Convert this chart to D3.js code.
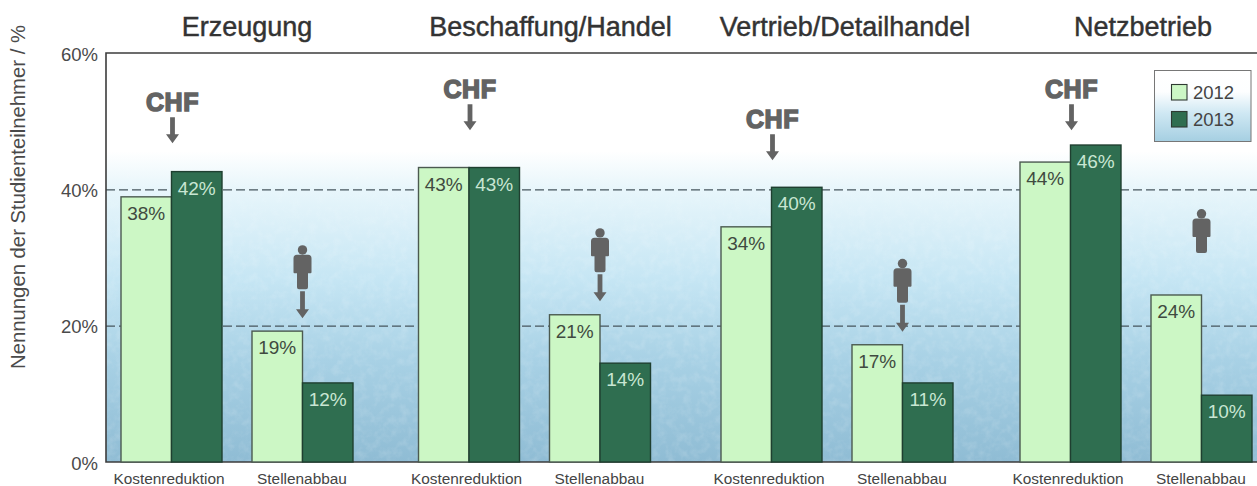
<!DOCTYPE html>
<html>
<head>
<meta charset="utf-8">
<script src="https://cdn.jsdelivr.net/npm/d3@7"></script>
<style>
  html, body { margin: 0; padding: 0; background: #fff; overflow: hidden; }
  text { font-family: "Liberation Sans", Arial, sans-serif; }
</style>
</head>
<body>
<div id="chart"></div>
<script>
const groups = ["Erzeugung", "Beschaffung/Handel", "Vertrieb/Detailhandel", "Netzbetrieb"];
const categories = ["Kostenreduktion", "Stellenabbau"];
const years = ["2012", "2013"];
const yTicks = [0, 20, 40, 60];

// bar heights as drawn, one row per group: [Kosten, Stellen]
const values2012 = [[38.9, 19.2], [43.2, 21.6], [34.5, 17.2], [44.0, 24.5]];
const values2013 = [[42.6, 11.6], [43.2, 14.5], [40.3, 11.6], [46.5, 9.8]];
// printed labels, they do not always match the bar height
const labels2012 = [[38, 19], [43, 21], [34, 17], [44, 24]];
const labels2013 = [[42, 12], [43, 14], [40, 11], [46, 10]];

// height on the value axis where the icons start
const chfLevels = [54.1, 56, 51.6, 56];
const personLevels = [31.8, 34.3, 29.8, 37.1];
const personHasArrow = [true, true, true, false];

const width = 1257;
const height = 486;
const plot = { left: 106, right: 1257, top: 53, bottom: 462 };
const iconColor = "#636363";

const svg = d3.select("#chart").append("svg")
  .attr("width", width)
  .attr("height", height)
  .style("display", "block");

const y = d3.scaleLinear().domain([0, 60]).range([plot.bottom, plot.top]);

// group and category offsets measured off the page
const groupX = d3.scaleOrdinal().domain(groups).range([121, 418.5, 721, 1020]);
const catX = d3.scaleBand().domain(categories).range([0, 262]);
const yearX = d3.scaleBand().domain(years).range([0, 101]);

const titleX = d3.scaleOrdinal().domain(groups).range([247, 550.5, 845, 1143]);

// background gradient
const defs = svg.append("defs");
const grad = defs.append("linearGradient")
  .attr("id", "bg")
  .attr("x1", 0).attr("x2", 0).attr("y1", 0).attr("y2", 1);
[[0, "#ffffff"], [0.24, "#ffffff"], [0.33, "#e8f6fb"], [0.55, "#c6e6f4"], [0.75, "#a8d1e5"], [1, "#8fbcd4"]]
  .forEach(s => grad.append("stop").attr("offset", s[0]).attr("stop-color", s[1]));

const legendGrad = defs.append("linearGradient")
  .attr("id", "legendBg")
  .attr("x1", 0).attr("x2", 0).attr("y1", 0).attr("y2", 1);
[[0, "#ffffff"], [0.3, "#fdfeff"], [0.6, "#cfe8f3"], [1, "#a5cfe2"]]
  .forEach(s => legendGrad.append("stop").attr("offset", s[0]).attr("stop-color", s[1]));

// print mottling on the blue part
const fadeGrad = defs.append("linearGradient")
  .attr("id", "fade")
  .attr("x1", 0).attr("x2", 0).attr("y1", 0).attr("y2", 1);
[[0, "#fff", 0], [0.27, "#fff", 0], [0.45, "#fff", 1], [1, "#fff", 1]]
  .forEach(s => fadeGrad.append("stop").attr("offset", s[0]).attr("stop-color", s[1]).attr("stop-opacity", s[2]));

const mottle = defs.append("filter")
  .attr("id", "mottle")
  .attr("x", 0).attr("y", 0).attr("width", 1).attr("height", 1);
mottle.append("feTurbulence")
  .attr("type", "fractalNoise")
  .attr("baseFrequency", 0.12)
  .attr("numOctaves", 3)
  .attr("seed", 4)
  .attr("result", "noise");
mottle.append("feColorMatrix")
  .attr("in", "noise")
  .attr("type", "matrix")
  .attr("values", "0 0 0 0 1  0 0 0 0 1  0 0 0 0 1  2.4 0 0 0 -1")
  .attr("result", "white");
mottle.append("feComposite")
  .attr("in", "white")
  .attr("in2", "SourceGraphic")
  .attr("operator", "in");

// plot area
svg.append("rect")
  .attr("x", plot.left)
  .attr("y", plot.top)
  .attr("width", plot.right - plot.left)
  .attr("height", plot.bottom - plot.top)
  .attr("fill", "url(#bg)");

svg.append("rect")
  .attr("x", plot.left)
  .attr("y", plot.top)
  .attr("width", plot.right - plot.left)
  .attr("height", plot.bottom - plot.top)
  .attr("fill", "url(#fade)")
  .attr("filter", "url(#mottle)")
  .attr("opacity", 0.13);

// Dashed lines at 20 and 40
svg.append("g").selectAll("line")
  .data([20, 40])
  .join("line")
  .attr("x1", plot.left)
  .attr("x2", plot.right)
  .attr("y1", d => y(d) + 0.5)
  .attr("y2", d => y(d) + 0.5)
  .attr("stroke", "#47565e")
  .attr("stroke-width", 1.2)
  .attr("stroke-dasharray", "9,4");

// Frame
svg.append("path")
  .attr("d", `M${plot.right},${plot.top}H${plot.left}V${plot.bottom}H${plot.right}`)
  .attr("fill", "none")
  .attr("stroke", "#3c3c3c")
  .attr("stroke-width", 1.6);

// Y-axis
const yAxis = svg.append("g")
  .attr("transform", `translate(${plot.left},0)`)
  .call(d3.axisLeft(y).tickValues(yTicks).tickFormat(d => d + "%").tickSize(0).tickPadding(8));
yAxis.select(".domain").remove();
yAxis.selectAll("text")
  .attr("fill", "#4a4a4a")
  .attr("dy", "0.38em")
  .style("font-size", "18.5px");

svg.append("text")
  .attr("transform", "rotate(-90)")
  .attr("x", -197)
  .attr("y", 25)
  .attr("text-anchor", "middle")
  .attr("fill", "#4a4a4a")
  .style("font-size", "20.3px")
  .text("Nennungen der Studienteilnehmer / %");

// Group titles
svg.append("g").selectAll("text")
  .data(groups)
  .join("text")
  .attr("x", d => titleX(d))
  .attr("y", 36)
  .attr("text-anchor", "middle")
  .attr("fill", "#333")
  .attr("stroke", "#333")
  .attr("stroke-width", 0.45)
  .style("font-size", "27px")
  .text(d => d);

// Bars, one row per group/category/year
const barData = [];
groups.forEach((g, gi) => {
  categories.forEach((c, ci) => {
    barData.push({ g, c, year: "2012", value: values2012[gi][ci], label: labels2012[gi][ci] });
    barData.push({ g, c, year: "2013", value: values2013[gi][ci], label: labels2013[gi][ci] });
  });
});
const barLeft = d => groupX(d.g) + catX(d.c) + yearX(d.year);

svg.append("g").selectAll("rect")
  .data(barData)
  .join("rect")
  .attr("x", barLeft)
  .attr("y", d => y(d.value))
  .attr("width", yearX.bandwidth())
  .attr("height", d => y(0) - y(d.value))
  .attr("fill", d => d.year === "2012" ? "#ccf7c5" : "#2f6e50")
  .attr("stroke", d => d.year === "2012" ? "#4b5a50" : "#1f3f30")
  .attr("stroke-width", 1.4);

svg.append("g").selectAll("text")
  .data(barData)
  .join("text")
  .attr("x", d => barLeft(d) + yearX.bandwidth() / 2)
  .attr("y", d => y(d.value) + 23)
  .attr("text-anchor", "middle")
  .attr("fill", d => d.year === "2012" ? "#3f4a40" : "#c9e6d3")
  .style("font-size", "19px")
  .text(d => d.label + "%");

// Category labels
const catData = [];
groups.forEach(g => categories.forEach(c => catData.push({ g, c })));
svg.append("g").selectAll("text")
  .data(catData)
  .join("text")
  .attr("x", d => groupX(d.g) + catX(d.c) + (d.c === categories[0] ? 48 : 50))
  .attr("y", 484)
  .attr("text-anchor", "middle")
  .attr("fill", "#444")
  .style("font-size", "15.4px")
  .text(d => d.c);

// Arrow pointing down, shaft and head
function drawArrow(sel, cx, y0, y1) {
  sel.append("path")
    .attr("d", `M${cx - 2.4},${y0}H${cx + 2.4}V${y1 - 9}H${cx + 6.5}L${cx},${y1}L${cx - 6.5},${y1 - 9}H${cx - 2.4}Z`)
    .attr("fill", iconColor);
}

// CHF marks above the Kostenreduktion bars
const iconLayer = svg.append("g");
groups.forEach((g, i) => {
  const cx = groupX(g) + yearX("2013") + 1;
  const top = y(chfLevels[i]);
  iconLayer.append("text")
    .attr("x", cx)
    .attr("y", top + 18)
    .attr("text-anchor", "middle")
    .attr("fill", iconColor)
    .attr("stroke", iconColor)
    .attr("stroke-width", 1.5)
    .style("font-size", "25px")
    .style("font-weight", "bold")
    .style("letter-spacing", "0.6px")
    .text("CHF");
  drawArrow(iconLayer, cx, top + 24, top + 50);
});

// Person marks above the Stellenabbau bars
function drawPerson(sel, cx, top) {
  sel.append("circle").attr("cx", cx).attr("cy", top + 4.7).attr("r", 4.7).attr("fill", iconColor);
  sel.append("path")
    .attr("d", `M${cx - 9},${top + 13} Q${cx - 9},${top + 9.5} ${cx - 5.5},${top + 9.5} H${cx + 5.5} Q${cx + 9},${top + 9.5} ${cx + 9},${top + 13} V${top + 27} Q${cx + 9},${top + 28} ${cx + 8},${top + 28} H${cx + 5.5} V${top + 42} Q${cx + 5.5},${top + 44} ${cx + 3.5},${top + 44} H${cx - 3.5} Q${cx - 5.5},${top + 44} ${cx - 5.5},${top + 42} V${top + 28} H${cx - 8} Q${cx - 9},${top + 28} ${cx - 9},${top + 27} Z`)
    .attr("fill", iconColor);
}
groups.forEach((g, i) => {
  const cx = groupX(g) + catX(categories[1]) + yearX("2013");
  const top = y(personLevels[i]);
  drawPerson(iconLayer, cx, top);
  if (personHasArrow[i]) drawArrow(iconLayer, cx, top + 46, top + 73);
});

// Legend
const legend = svg.append("g").attr("transform", "translate(1154.5,70.5)");
legend.append("rect")
  .attr("width", 96.5)
  .attr("height", 71)
  .attr("fill", "url(#legendBg)")
  .attr("stroke", "#777")
  .attr("stroke-width", 1);
years.forEach((yr, i) => {
  legend.append("rect")
    .attr("x", 17)
    .attr("y", 14 + i * 27)
    .attr("width", 15.5)
    .attr("height", 15.5)
    .attr("fill", i === 0 ? "#ccf7c5" : "#2f6e50")
    .attr("stroke", "#2e3a32")
    .attr("stroke-width", 1.1);
  legend.append("text")
    .attr("x", 38.5)
    .attr("y", 28.5 + i * 27)
    .attr("fill", "#444")
    .style("font-size", "18.5px")
    .text(yr);
});
</script>
</body>
</html>
